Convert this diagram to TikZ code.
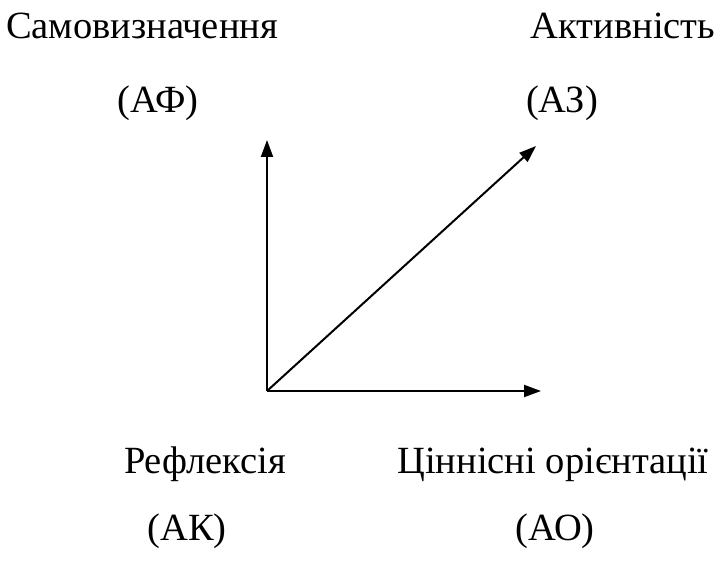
\documentclass[tikz,border=0pt]{standalone}
\usepackage{fontspec}
\setmainfont{Liberation Serif}
\usetikzlibrary{arrows.meta}
\begin{document}
\begin{tikzpicture}[x=1pt,y=-1pt,
  lbl/.style={font=\fontsize{38.5}{44}\selectfont, inner sep=0pt, anchor=base},
  axis/.style={line width=2pt, -{Triangle[length=17pt,width=12pt]}}]
\useasboundingbox (0,0) rectangle (717,561);
\node[lbl] (samo) at (142,39) {Самовизначення};
\node[lbl] (af) at (158,113) {(АФ)};
\node[lbl] (akt) at (623,39) {Активність};
\node[lbl] (az) at (562,113) {(АЗ)};
\node[lbl] (ref) at (205,473) {Рефлексія};
\node[lbl] (cin) at (553,473) {Ціннісні орієнтації};
\node[lbl] (ak) at (187,540) {(АК)};
\node[lbl] (ao) at (555,540) {(АО)};
\coordinate (o) at (267,391);
\coordinate (up) at (267,140);
\coordinate (rt) at (541,391);
\coordinate (dg) at (536,146);
\draw[axis] (o) -- (up);
\draw[axis] (o) -- (rt);
\draw[axis] (o) -- (dg);
\end{tikzpicture}
\end{document}
